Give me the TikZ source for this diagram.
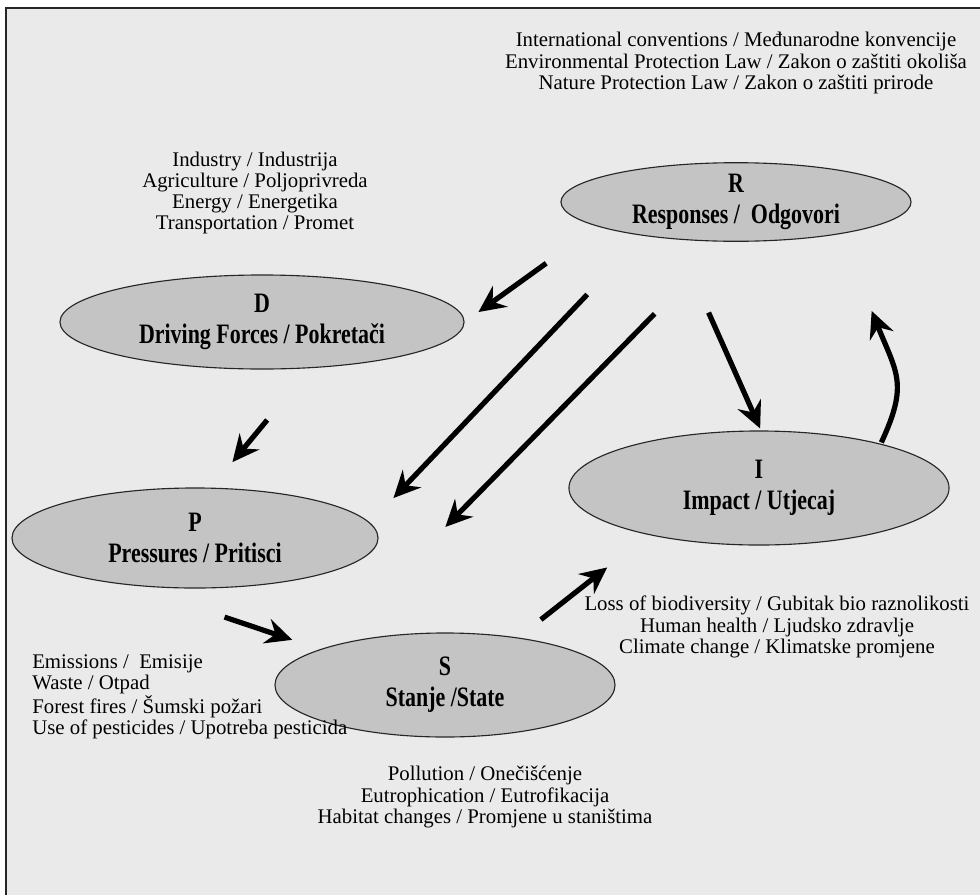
\documentclass[tikz,border=0pt]{standalone}
\usepackage{fontspec}
\setmainfont{Liberation Serif}
\newfontfamily\stagefont{Liberation Serif Bold}[FakeStretch=0.78]
\usetikzlibrary{shapes.geometric, arrows.meta}
\definecolor{panelgray}{HTML}{EAEAEA}
\definecolor{stagegray}{HTML}{C4C4C4}
\definecolor{framegray}{HTML}{262626}

\begin{document}
\begin{tikzpicture}[x=0.025cm, y=0.025cm,
    stage/.style={ellipse, draw=black!85, line width=0.8pt, fill=stagegray, inner sep=0pt, align=center, font=\stagefont\fontsize{20}{22}\selectfont},
    note/.style={align=center, inner sep=0pt, font=\fontsize{14.8}{15}\selectfont},
    flow/.style={-{Stealth[length=19pt, width=18pt, inset=6.5pt]}, line width=3.7pt, black}
]
    % Background and frame
    \useasboundingbox (0,0) rectangle (980,-895);
    \fill[white] (0,0) rectangle (980,-895);
    \fill[panelgray] (6,-8) rectangle (980,-895);
    \draw[framegray, line width=2pt] (6,-895) -- (6,-8) -- (980,-8);

    % DPSIR stages
    \node[stage, minimum width=8.75cm, minimum height=1.9cm] (R) at (736,-202) {R\\Responses / \ Odgovori};
    \node[stage, minimum width=10.1cm, minimum height=2.35cm] (D) at (262,-322) {D\\Driving Forces / Pokretači};
    \node[stage, minimum width=9.15cm, minimum height=2.5cm] (P) at (195,-538) {P\\Pressures / Pritisci};
    \node[stage, minimum width=9.5cm, minimum height=2.85cm] (I) at (759,-488) {I\\Impact / Utjecaj};
    \node[stage, minimum width=8.5cm, minimum height=2.6cm] (S) at (445,-685) {S\\Stanje /State};

    % Examples for each stage
    \node[note] (rnote) at (736,-63) {International conventions / Međunarodne konvencije\\Environmental Protection Law / Zakon o zaštiti okoliša\\Nature Protection Law / Zakon o zaštiti prirode};
    \node[note] (dnote) at (255,-193) {Industry / Industrija\\Agriculture / Poljoprivreda\\Energy / Energetika\\Transportation / Promet};
    \node[note, align=left, anchor=west] (pnote) at (32,-697) {Emissions / \ Emisije\\Waste / Otpad\\Forest fires / Šumski požari\\Use of pesticides / Upotreba pesticida};
    \node[note] (snote) at (485,-797) {Pollution / Onečišćenje\\Eutrophication / Eutrofikacija\\Habitat changes / Promjene u staništima};
    \node[note] (inote) at (777,-627) {Loss of biodiversity / Gubitak bio raznolikosti\\Human health / Ljudsko zdravlje\\Climate change / Klimatske promjene};

    % Causal chain
    \draw[flow, shorten <=44.8pt, shorten >=12.1pt] (R.190) -- (D.0);
    \draw[flow, shorten <=47.7pt, shorten >=23.5pt] (D.-44) -- (P.72);
    \draw[flow, shorten <=71pt, shorten >=20.9pt] (P.216) -- (S.164);
    \draw[flow, shorten <=20.6pt, shorten >=37.4pt] (S.33) -- (I.203);

    % Responses acting back on the chain
    \draw[flow, shorten <=57.6pt, shorten >=24.2pt] (R.200) -- (P.5);
    \draw[flow, shorten <=71.8pt, shorten >=119.5pt] (R.255) -- (S.162);
    \draw[flow, shorten <=56.9pt, shorten >=1.5pt] (R.212) -- (I.88);
    \draw[flow, shorten <=1pt, shorten >=59pt] (I.20) .. controls +(28,60) and +(56,-139) .. (R.-17);
\end{tikzpicture}
\end{document}
